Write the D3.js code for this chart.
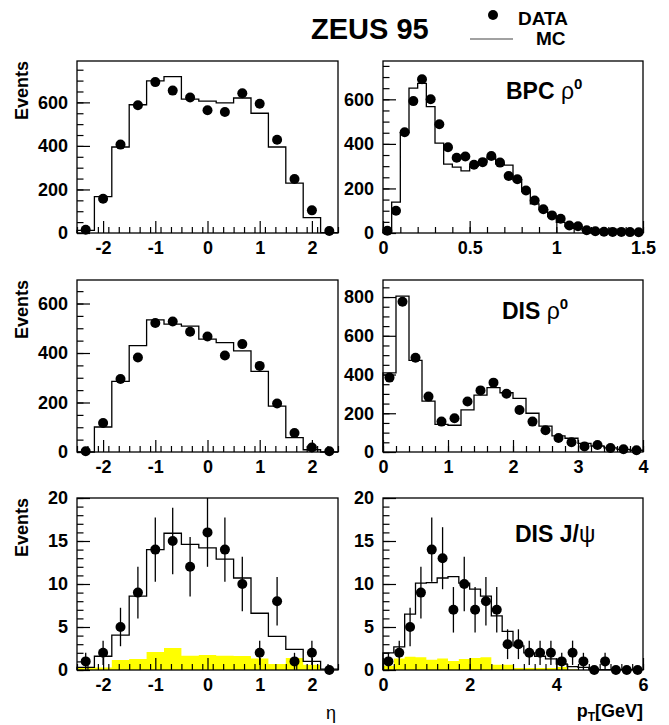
<!DOCTYPE html>
<html>
<head>
<meta charset="utf-8">
<script src="https://cdn.jsdelivr.net/npm/d3@7"></script>
<style>
body { margin: 0; background: #fff; }
svg { display: block; font-family: "Liberation Sans", Arial, Helvetica, sans-serif; }
.tick text { font-size: 18px; font-weight: bold; fill: #000; }
.domain { display: none; }
.tick line { stroke: #000; stroke-width: 1.2; }
</style>
</head>
<body>
<svg class="chart" width="669" height="725"></svg>
<script>
// BPC rho0, eta (15 bins from -2.5 to 2.5)
var bpcEtaData = [15, 157, 406, 587, 693, 654, 622, 564, 556, 642, 594, 428, 248, 104, 9];
var bpcEtaMC = [12, 167, 395, 589, 699, 718, 615, 606, 598, 620, 550, 395, 229, 71, 2];

// BPC rho0, pT (30 bins from 0 to 1.5)
var bpcPtData = [10, 100, 452, 592, 690, 600, 488, 385, 338, 343, 306, 318, 346, 316, 256,
    241, 191, 146, 107, 79, 64, 34, 30, 12, 8, 6, 5, 5, 4, 3];
var bpcPtMC = [3, 139, 450, 650, 672, 567, 403, 309, 296, 279, 300, 320, 340, 310, 305,
    239, 187, 131, 105, 75, 48, 30, 21, 12, 7, 4, 3, 2, 2, 1];

// DIS rho0, eta
var disEtaData = [3, 117, 295, 382, 521, 527, 486, 467, 390, 436, 348, 196, 77, 18, 3];
var disEtaMC = [0, 101, 285, 430, 534, 517, 509, 456, 442, 409, 326, 185, 58, 9, 0];

// DIS rho0, pT (20 bins from 0 to 4)
var disPtData = [384, 776, 487, 286, 157, 174, 261, 318, 358, 301, 217, 157, 112, 72, 50, 29, 36, 21, 14, 9];
var disPtMC = [409, 805, 473, 263, 143, 138, 217, 294, 332, 306, 277, 200, 134, 83, 71, 45, 31, 21, 14, 9];

// DIS J/psi, eta
var jpsiEtaData = [1, 2, 5, 9, 14, 15, 12, 16, 14, 10, 2, 8, 1, 2, 0];
var jpsiEtaMC = [0.3, 1.6, 4.05, 8.6, 14.0, 15.9, 14.6, 14.2, 12.9, 10.7, 6.6, 3.9, 2.4, 1.0, 0.1];
var jpsiEtaBkg = [0.3, 0.3, 1.15, 1.27, 2.1, 2.55, 1.66, 1.74, 1.66, 1.62, 1.35, 0.7, 1.4, 0.6, 0];

// DIS J/psi, pT (24 bins from 0 to 6)
var jpsiPtData = [1, 2, 5, 9, 14, 13, 7, 10, 7, 8, 7, 3, 3, 2, 2, 2, 1, 2, 1, 0, 1, 0, 0, 0];
var jpsiPtMC = [2.0, 2.7, 6.5, 10.1, 10.15, 10.7, 10.85, 10.1, 9.4, 8.6, 6.3, 4.5, 2.8, 2.0,
    1.6, 1.3, 0.7, 0.4, 0.3, 0.05, 0.05, 0.05, 0.05, 0.05];
var jpsiPtBkg = [0.5, 1.35, 1.55, 1.47, 1.2, 1.35, 1.04, 1.27, 1.39, 1.47, 0.6, 0.6, 0.23, 0.23,
    0.23, 0.23, 0.35, 0.1, 0, 0, 0, 0, 0, 0];

var etaTicks = [-2, -1, 0, 1, 2];
var bpcPtTicks = [0, 0.5, 1, 1.5];
var disPtTicks = [0, 1, 2, 3, 4];
var jpsiPtTicks = [0, 2, 4, 6];
var rhoYTicks = [0, 200, 400, 600];
var disPtYTicks = [0, 200, 400, 600, 800];
var jpsiYTicks = [0, 5, 10, 15, 20];

var colX = [77, 383];
var colW = [261, 260];
var rowY = [61, 280, 498];
var panelH = 172;

var panels = [
    { col: 0, row: 0, xDomain: [-2.5, 2.5], yMax: 790, data: bpcEtaData, mc: bpcEtaMC,
      xTicks: etaTicks, xMinor: 0.2, yTicks: rhoYTicks, yMinor: 50 },
    { col: 1, row: 0, xDomain: [0, 1.5], yMax: 772, data: bpcPtData, mc: bpcPtMC,
      xTicks: bpcPtTicks, xMinor: 0.1, yTicks: rhoYTicks, yMinor: 50,
      label: { x: 506, y: 99, main: "BPC ", greek: "\u03c1", sup: "0" } },
    { col: 0, row: 1, xDomain: [-2.5, 2.5], yMax: 695, data: disEtaData, mc: disEtaMC,
      xTicks: etaTicks, xMinor: 0.2, yTicks: rhoYTicks, yMinor: 50 },
    { col: 1, row: 1, xDomain: [0, 4], yMax: 888, data: disPtData, mc: disPtMC,
      xTicks: disPtTicks, xMinor: 0.2, yTicks: disPtYTicks, yMinor: 50,
      label: { x: 502, y: 319, main: "DIS ", greek: "\u03c1", sup: "0" } },
    { col: 0, row: 2, xDomain: [-2.5, 2.5], yMax: 20, data: jpsiEtaData, mc: jpsiEtaMC, bkg: jpsiEtaBkg,
      xTicks: etaTicks, xMinor: 0.2, yTicks: jpsiYTicks, yMinor: 1, errors: true },
    { col: 1, row: 2, xDomain: [0, 6], yMax: 20, data: jpsiPtData, mc: jpsiPtMC, bkg: jpsiPtBkg,
      xTicks: jpsiPtTicks, xMinor: 0.25, yTicks: jpsiYTicks, yMinor: 1, errors: true,
      label: { x: 515, y: 542, main: "DIS J/", greek: "\u03c8", sup: "" } }
];

function minorValues(domain, step) {
    var n = Math.round((domain[1] - domain[0]) / step);
    var vals = [];
    for (var i = 0; i <= n; i++) {
        vals.push(domain[0] + i * step);
    }
    return vals;
}

function stepPoints(values, lo, width) {
    var pts = values.map(function (v, i) { return [lo + i * width, v]; });
    pts.push([lo + values.length * width, values[values.length - 1]]);
    return pts;
}

var svg = d3.select("svg.chart");

panels.forEach(function (p) {
    var x0 = colX[p.col];
    var y0 = rowY[p.row];
    var w = colW[p.col];
    var g = svg.append("g").attr("transform", "translate(" + x0 + "," + y0 + ")");

    var xScale = d3.scaleLinear().domain(p.xDomain).range([0, w]);
    var yScale = d3.scaleLinear().domain([0, p.yMax]).range([panelH, 0]);
    var binW = (p.xDomain[1] - p.xDomain[0]) / p.data.length;
    var lo = p.xDomain[0];

    // background histogram (yellow)
    if (p.bkg) {
        var area = d3.area()
            .curve(d3.curveStepAfter)
            .x(function (d) { return xScale(d[0]); })
            .y0(yScale(0))
            .y1(function (d) { return yScale(d[1]); });
        g.append("path")
            .attr("d", area(stepPoints(p.bkg, lo, binW)))
            .attr("fill", "#ffff00")
            .attr("stroke", "none");
    }

    // MC histogram outline
    var mcPts = stepPoints(p.mc, lo, binW);
    mcPts.unshift([lo, 0]);
    mcPts.push([lo + p.mc.length * binW, 0]);
    var line = d3.line()
        .curve(d3.curveStepAfter)
        .x(function (d) { return xScale(d[0]); })
        .y(function (d) { return yScale(d[1]); });
    g.append("path")
        .attr("d", line(mcPts))
        .attr("fill", "none")
        .attr("stroke", "#000")
        .attr("stroke-width", 1.3);

    // data points
    var pts = p.data.map(function (v, i) { return { x: lo + (i + 0.5) * binW, y: v }; });
    if (p.errors) {
        g.selectAll("line.err")
            .data(pts.filter(function (d) { return d.y > 0; }))
            .enter()
            .append("line")
            .classed("err", true)
            .attr("x1", function (d) { return xScale(d.x); })
            .attr("x2", function (d) { return xScale(d.x); })
            .attr("y1", function (d) { return yScale(Math.min(p.yMax, d.y + Math.sqrt(d.y))); })
            .attr("y2", function (d) { return yScale(Math.max(0, d.y - Math.sqrt(d.y))); })
            .attr("stroke", "#000")
            .attr("stroke-width", 1.3);
    }
    g.selectAll("circle.pt")
        .data(pts)
        .enter()
        .append("circle")
        .classed("pt", true)
        .attr("cx", function (d) { return xScale(d.x); })
        .attr("cy", function (d) { return yScale(d.y); })
        .attr("r", 5)
        .attr("fill", "#000");

    // frame
    g.append("rect")
        .attr("x", 0)
        .attr("y", 0)
        .attr("width", w)
        .attr("height", panelH)
        .attr("fill", "none")
        .attr("stroke", "#000")
        .attr("stroke-width", 1.3);

    // axes, ticks pointing inward
    g.append("g")
        .attr("transform", "translate(0," + panelH + ")")
        .call(d3.axisBottom(xScale)
            .tickValues(minorValues(p.xDomain, p.xMinor))
            .tickSize(-6)
            .tickFormat(""));
    g.append("g")
        .attr("transform", "translate(0," + panelH + ")")
        .call(d3.axisBottom(xScale)
            .tickValues(p.xTicks)
            .tickSize(-12)
            .tickPadding(8)
            .tickFormat(function (d) { return String(d); }));
    g.append("g")
        .call(d3.axisLeft(yScale)
            .tickValues(minorValues([0, Math.floor(p.yMax / p.yMinor) * p.yMinor], p.yMinor))
            .tickSize(-6.5)
            .tickFormat(""));
    g.append("g")
        .call(d3.axisLeft(yScale)
            .tickValues(p.yTicks)
            .tickSize(-13)
            .tickPadding(9)
            .tickFormat(function (d) { return String(d); }));

    if (p.col === 0) {
        svg.append("text")
            .attr("transform", "translate(28," + y0 + ") rotate(-90)")
            .attr("text-anchor", "end")
            .attr("font-size", 18)
            .attr("font-weight", "bold")
            .text("Events");
    }

    if (p.label) {
        var t = svg.append("text")
            .attr("x", p.label.x)
            .attr("y", p.label.y)
            .attr("font-size", 23);
        t.append("tspan").attr("font-weight", "bold").text(p.label.main);
        t.append("tspan").text(p.label.greek);
        if (p.label.sup) {
            t.append("tspan")
                .attr("font-weight", "bold")
                .attr("font-size", 15)
                .attr("dy", -10)
                .text(p.label.sup);
        }
    }
});

// title and legend
svg.append("text")
    .attr("x", 311)
    .attr("y", 39)
    .attr("font-size", 29)
    .attr("font-weight", "bold")
    .text("ZEUS 95");
svg.append("circle")
    .attr("cx", 493)
    .attr("cy", 15)
    .attr("r", 5)
    .attr("fill", "#000");
svg.append("line")
    .attr("x1", 470)
    .attr("x2", 513)
    .attr("y1", 39)
    .attr("y2", 39)
    .attr("stroke", "#444")
    .attr("stroke-width", 1.2);
svg.append("text")
    .attr("x", 518)
    .attr("y", 25)
    .attr("font-size", 19)
    .attr("font-weight", "bold")
    .text("DATA");
svg.append("text")
    .attr("x", 536)
    .attr("y", 45)
    .attr("font-size", 19)
    .attr("font-weight", "bold")
    .text("MC");

// x-axis titles
svg.append("text")
    .attr("x", 331)
    .attr("y", 719)
    .attr("text-anchor", "middle")
    .attr("font-size", 18)
    .text("\u03b7");
var pt = svg.append("text")
    .attr("x", 643)
    .attr("y", 717)
    .attr("text-anchor", "end")
    .attr("font-size", 18)
    .attr("font-weight", "bold");
pt.append("tspan").text("p");
pt.append("tspan").attr("font-size", 12).attr("dy", 4).text("T");
pt.append("tspan").attr("dy", -4).text("[GeV]");
</script>
</body>
</html>
